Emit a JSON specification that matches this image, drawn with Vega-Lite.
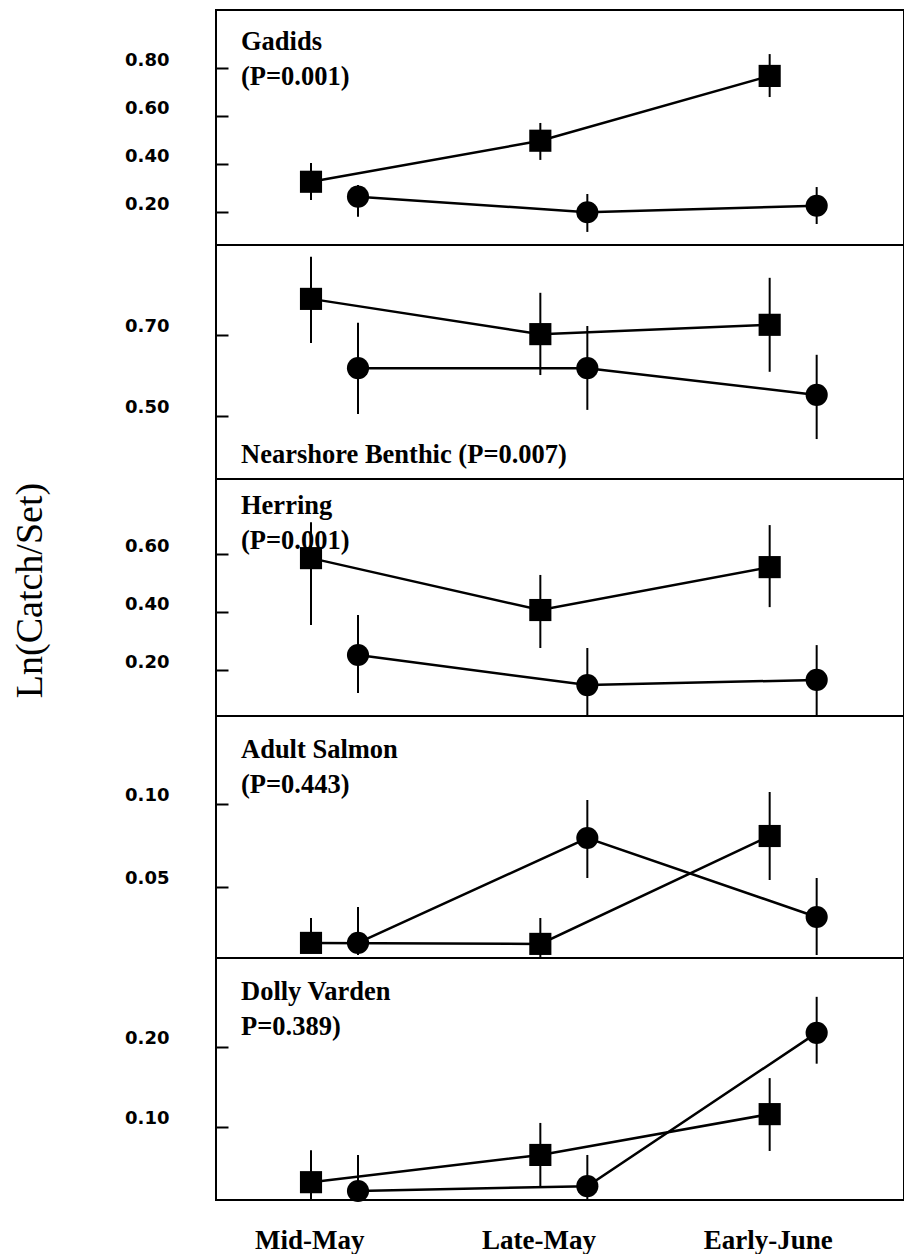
{
  "$schema": "https://vega.github.io/schema/vega-lite/v6.json",
  "background": "white",
  "padding": {"left": 10, "top": 9, "right": 0, "bottom": 0},
  "datasets": {
    "catch": [
      {"taxon": "Gadids", "period": "Mid-May", "n": 1, "group": "A", "mean": 0.326, "lo": 0.25, "hi": 0.404},
      {"taxon": "Gadids", "period": "Mid-May", "n": 1, "group": "B", "mean": 0.264, "lo": 0.18, "hi": 0.312},
      {"taxon": "Gadids", "period": "Late-May", "n": 2, "group": "A", "mean": 0.497, "lo": 0.417, "hi": 0.571},
      {"taxon": "Gadids", "period": "Late-May", "n": 2, "group": "B", "mean": 0.199, "lo": 0.117, "hi": 0.275},
      {"taxon": "Gadids", "period": "Early-June", "n": 3, "group": "A", "mean": 0.767, "lo": 0.679, "hi": 0.858},
      {"taxon": "Gadids", "period": "Early-June", "n": 3, "group": "B", "mean": 0.226, "lo": 0.15, "hi": 0.304},
      {"taxon": "Nearshore Benthic", "period": "Mid-May", "n": 1, "group": "A", "mean": 0.789, "lo": 0.68, "hi": 0.893},
      {"taxon": "Nearshore Benthic", "period": "Mid-May", "n": 1, "group": "B", "mean": 0.618, "lo": 0.505, "hi": 0.73},
      {"taxon": "Nearshore Benthic", "period": "Late-May", "n": 2, "group": "A", "mean": 0.702, "lo": 0.601, "hi": 0.804},
      {"taxon": "Nearshore Benthic", "period": "Late-May", "n": 2, "group": "B", "mean": 0.618, "lo": 0.515, "hi": 0.722},
      {"taxon": "Nearshore Benthic", "period": "Early-June", "n": 3, "group": "A", "mean": 0.725, "lo": 0.609, "hi": 0.841},
      {"taxon": "Nearshore Benthic", "period": "Early-June", "n": 3, "group": "B", "mean": 0.552, "lo": 0.443, "hi": 0.651},
      {"taxon": "Herring", "period": "Mid-May", "n": 1, "group": "A", "mean": 0.586, "lo": 0.355, "hi": 0.71},
      {"taxon": "Herring", "period": "Mid-May", "n": 1, "group": "B", "mean": 0.252, "lo": 0.121, "hi": 0.39},
      {"taxon": "Herring", "period": "Late-May", "n": 2, "group": "A", "mean": 0.407, "lo": 0.276, "hi": 0.528},
      {"taxon": "Herring", "period": "Late-May", "n": 2, "group": "B", "mean": 0.148, "lo": 0.042, "hi": 0.276},
      {"taxon": "Herring", "period": "Early-June", "n": 3, "group": "A", "mean": 0.555, "lo": 0.417, "hi": 0.7},
      {"taxon": "Herring", "period": "Early-June", "n": 3, "group": "B", "mean": 0.166, "lo": 0.042, "hi": 0.286},
      {"taxon": "Adult Salmon", "period": "Mid-May", "n": 1, "group": "A", "mean": 0.0163, "lo": 0.01, "hi": 0.0313},
      {"taxon": "Adult Salmon", "period": "Mid-May", "n": 1, "group": "B", "mean": 0.0163, "lo": 0.009, "hi": 0.038},
      {"taxon": "Adult Salmon", "period": "Late-May", "n": 2, "group": "A", "mean": 0.0157, "lo": 0.0073, "hi": 0.0313},
      {"taxon": "Adult Salmon", "period": "Late-May", "n": 2, "group": "B", "mean": 0.0795, "lo": 0.0554, "hi": 0.1024},
      {"taxon": "Adult Salmon", "period": "Early-June", "n": 3, "group": "A", "mean": 0.0807, "lo": 0.0542, "hi": 0.1072},
      {"taxon": "Adult Salmon", "period": "Early-June", "n": 3, "group": "B", "mean": 0.0319, "lo": 0.009, "hi": 0.0554},
      {"taxon": "Dolly Varden", "period": "Mid-May", "n": 1, "group": "A", "mean": 0.031, "lo": 0.009, "hi": 0.071},
      {"taxon": "Dolly Varden", "period": "Mid-May", "n": 1, "group": "B", "mean": 0.02, "lo": 0.009, "hi": 0.065},
      {"taxon": "Dolly Varden", "period": "Late-May", "n": 2, "group": "A", "mean": 0.065, "lo": 0.024, "hi": 0.105},
      {"taxon": "Dolly Varden", "period": "Late-May", "n": 2, "group": "B", "mean": 0.026, "lo": 0.009, "hi": 0.065},
      {"taxon": "Dolly Varden", "period": "Early-June", "n": 3, "group": "A", "mean": 0.116, "lo": 0.07, "hi": 0.161},
      {"taxon": "Dolly Varden", "period": "Early-June", "n": 3, "group": "B", "mean": 0.2175, "lo": 0.179, "hi": 0.2625}
    ]
  },
  "spacing": 0,
  "bounds": "flush",
  "resolve": {"scale": {"x": "independent", "y": "independent", "xOffset": "independent"}},
  "vconcat": [
    {
      "width": 688, "height": 235,
      "title": {"text": ["Gadids", "(P=0.001)"], "orient": "top", "offset": -80},
      "data": {"name": "catch"},
      "transform": [{"filter": "datum.taxon === 'Gadids'"}],
      "encoding": {
        "x": {"field": "period", "type": "nominal", "scale": {"type": "band", "domain": ["Mid-May", "Late-May", "Early-June"], "paddingInner": 0, "paddingOuter": 0}, "axis": null},
        "xOffset": {"field": "group", "type": "nominal", "scale": {"type": "point", "domain": ["A", "B"], "range": [95, 142], "padding": 0}}
      },
      "layer": [
        {"mark": {"type": "rule", "color": "black", "strokeWidth": 2},
         "encoding": {"y": {"field": "lo", "type": "quantitative", "scale": {"domain": [0.0625, 1.0417], "nice": false, "zero": false}, "axis": {"values": [0.2, 0.4, 0.6, 0.8], "format": ".2f", "title": null}}, "y2": {"field": "hi"}}},
        {"mark": {"type": "line", "color": "black", "strokeWidth": 2.5},
         "encoding": {"y": {"field": "mean", "type": "quantitative"}, "detail": {"field": "group"}, "order": {"field": "n", "type": "quantitative"}}},
        {"mark": {"type": "point", "filled": true, "color": "black", "opacity": 1, "size": 490},
         "encoding": {"y": {"field": "mean", "type": "quantitative"}, "shape": {"field": "group", "type": "nominal", "scale": {"domain": ["A", "B"], "range": ["square", "circle"]}, "legend": null}}}
      ]
    },
    {
      "width": 688, "height": 234,
      "title": {"text": "Nearshore Benthic (P=0.007)", "orient": "bottom", "offset": -37},
      "data": {"name": "catch"},
      "transform": [{"filter": "datum.taxon === 'Nearshore Benthic'"}],
      "encoding": {
        "x": {"field": "period", "type": "nominal", "scale": {"type": "band", "domain": ["Mid-May", "Late-May", "Early-June"], "paddingInner": 0, "paddingOuter": 0}, "axis": null},
        "xOffset": {"field": "group", "type": "nominal", "scale": {"type": "point", "domain": ["A", "B"], "range": [95, 142], "padding": 0}}
      },
      "layer": [
        {"mark": {"type": "rule", "color": "black", "strokeWidth": 2},
         "encoding": {"y": {"field": "lo", "type": "quantitative", "scale": {"domain": [0.3444, 0.922], "nice": false, "zero": false}, "axis": {"values": [0.5, 0.7], "format": ".2f", "title": null}}, "y2": {"field": "hi"}}},
        {"mark": {"type": "line", "color": "black", "strokeWidth": 2.5},
         "encoding": {"y": {"field": "mean", "type": "quantitative"}, "detail": {"field": "group"}, "order": {"field": "n", "type": "quantitative"}}},
        {"mark": {"type": "point", "filled": true, "color": "black", "opacity": 1, "size": 490},
         "encoding": {"y": {"field": "mean", "type": "quantitative"}, "shape": {"field": "group", "type": "nominal", "scale": {"domain": ["A", "B"], "range": ["square", "circle"]}, "legend": null}}}
      ]
    },
    {
      "width": 688, "height": 237,
      "title": {"text": ["Herring", "(P=0.001)"], "orient": "top", "offset": -75},
      "data": {"name": "catch"},
      "transform": [{"filter": "datum.taxon === 'Herring'"}],
      "encoding": {
        "x": {"field": "period", "type": "nominal", "scale": {"type": "band", "domain": ["Mid-May", "Late-May", "Early-June"], "paddingInner": 0, "paddingOuter": 0}, "axis": null},
        "xOffset": {"field": "group", "type": "nominal", "scale": {"type": "point", "domain": ["A", "B"], "range": [95, 142], "padding": 0}}
      },
      "layer": [
        {"mark": {"type": "rule", "color": "black", "strokeWidth": 2},
         "encoding": {"y": {"field": "lo", "type": "quantitative", "scale": {"domain": [0.0414, 0.859], "nice": false, "zero": false}, "axis": {"values": [0.2, 0.4, 0.6], "format": ".2f", "title": "Ln(Catch/Set)", "titleFont": "Liberation Serif", "titleFontWeight": "normal", "titleFontSize": 38, "titleX": -167, "titleY": 111, "titleColor": "black"}}, "y2": {"field": "hi"}}},
        {"mark": {"type": "line", "color": "black", "strokeWidth": 2.5},
         "encoding": {"y": {"field": "mean", "type": "quantitative"}, "detail": {"field": "group"}, "order": {"field": "n", "type": "quantitative"}}},
        {"mark": {"type": "point", "filled": true, "color": "black", "opacity": 1, "size": 490},
         "encoding": {"y": {"field": "mean", "type": "quantitative"}, "shape": {"field": "group", "type": "nominal", "scale": {"domain": ["A", "B"], "range": ["square", "circle"]}, "legend": null}}}
      ]
    },
    {
      "width": 688, "height": 242,
      "title": {"text": ["Adult Salmon", "(P=0.443)"], "orient": "top", "offset": -82},
      "data": {"name": "catch"},
      "transform": [{"filter": "datum.taxon === 'Adult Salmon'"}],
      "encoding": {
        "x": {"field": "period", "type": "nominal", "scale": {"type": "band", "domain": ["Mid-May", "Late-May", "Early-June"], "paddingInner": 0, "paddingOuter": 0}, "axis": null},
        "xOffset": {"field": "group", "type": "nominal", "scale": {"type": "point", "domain": ["A", "B"], "range": [95, 142], "padding": 0}}
      },
      "layer": [
        {"mark": {"type": "rule", "color": "black", "strokeWidth": 2},
         "encoding": {"y": {"field": "lo", "type": "quantitative", "scale": {"domain": [0.0072, 0.153], "nice": false, "zero": false}, "axis": {"values": [0.05, 0.1], "format": ".2f", "title": null}}, "y2": {"field": "hi"}}},
        {"mark": {"type": "line", "color": "black", "strokeWidth": 2.5},
         "encoding": {"y": {"field": "mean", "type": "quantitative"}, "detail": {"field": "group"}, "order": {"field": "n", "type": "quantitative"}}},
        {"mark": {"type": "point", "filled": true, "color": "black", "opacity": 1, "size": 490},
         "encoding": {"y": {"field": "mean", "type": "quantitative"}, "shape": {"field": "group", "type": "nominal", "scale": {"domain": ["A", "B"], "range": ["square", "circle"]}, "legend": null}}}
      ]
    },
    {
      "width": 688, "height": 242,
      "title": {"text": ["Dolly Varden", "P=0.389)"], "orient": "top", "offset": -82},
      "data": {"name": "catch"},
      "transform": [{"filter": "datum.taxon === 'Dolly Varden'"}],
      "encoding": {
        "x": {"field": "period", "type": "nominal", "scale": {"type": "band", "domain": ["Mid-May", "Late-May", "Early-June"], "paddingInner": 0, "paddingOuter": 0},
              "axis": {"title": null, "ticks": false, "domain": false, "labelAngle": 0, "labelOffset": -21, "labelFont": "Liberation Serif", "labelFontWeight": "bold", "labelFontSize": 27, "labelPadding": 27, "labelBaseline": "top"}},
        "xOffset": {"field": "group", "type": "nominal", "scale": {"type": "point", "domain": ["A", "B"], "range": [95, 142], "padding": 0}}
      },
      "layer": [
        {"mark": {"type": "rule", "color": "black", "strokeWidth": 2},
         "encoding": {"y": {"field": "lo", "type": "quantitative", "scale": {"domain": [0.00875, 0.311], "nice": false, "zero": false}, "axis": {"values": [0.1, 0.2], "format": ".2f", "title": null}}, "y2": {"field": "hi"}}},
        {"mark": {"type": "line", "color": "black", "strokeWidth": 2.5},
         "encoding": {"y": {"field": "mean", "type": "quantitative"}, "detail": {"field": "group"}, "order": {"field": "n", "type": "quantitative"}}},
        {"mark": {"type": "point", "filled": true, "color": "black", "opacity": 1, "size": 490},
         "encoding": {"y": {"field": "mean", "type": "quantitative"}, "shape": {"field": "group", "type": "nominal", "scale": {"domain": ["A", "B"], "range": ["square", "circle"]}, "legend": null}}}
      ]
    }
  ],
  "config": {
    "view": {"stroke": "black", "strokeWidth": 2},
    "axis": {"grid": false, "domain": false, "labelColor": "black", "tickColor": "black", "tickWidth": 2},
    "axisY": {"labelFont": "DejaVu Sans", "labelFontWeight": "bold", "labelFontSize": 18, "tickSize": -12, "labelPadding": 59, "labelOffset": -8},
    "title": {"font": "Liberation Serif", "fontWeight": "bold", "fontSize": 26.5, "color": "black", "anchor": "start", "frame": "group", "dx": 25, "lineHeight": 35, "baseline": "alphabetic"}
  }
}
